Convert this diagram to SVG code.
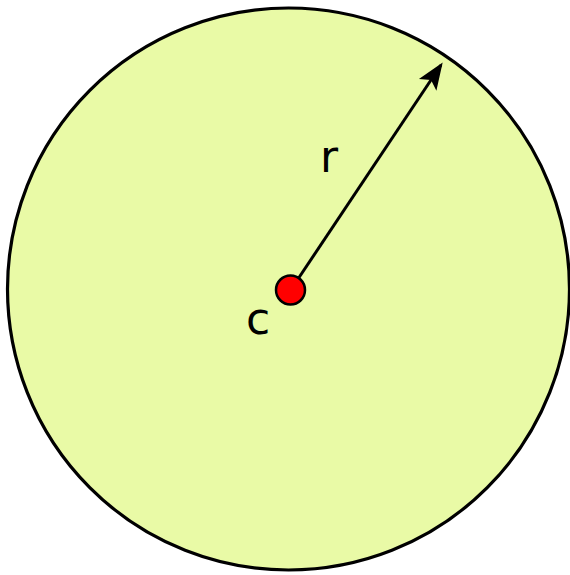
<svg xmlns="http://www.w3.org/2000/svg" width="570" height="575" viewBox="0 0 570 575">
<style>
.lbl{font-family:"DejaVu Sans",sans-serif;font-size:44px;fill:#000}
</style>
<defs>
<marker id="ah" markerWidth="9" markerHeight="8" refX="8" refY="4" orient="auto" markerUnits="strokeWidth">
<path d="M0,0.5 L9,4 L0,7.5 L2,4 Z" fill="#000"/>
</marker>
</defs>
<g id="circle">
<circle cx="288.5" cy="289" r="281" fill="#e9faa6" stroke="#000" stroke-width="3.2"/>
</g>
<g id="connectors">
<line x1="298" y1="279" x2="441" y2="65" stroke="#000" stroke-width="3" marker-end="url(#ah)"/>
</g>
<g id="center">
<circle cx="290.5" cy="290" r="14.5" fill="#ff0000" stroke="#000" stroke-width="2.5"/>
</g>
<text class="lbl" x="246" y="334">c</text>
<text class="lbl" x="320" y="172">r</text>
</svg>
